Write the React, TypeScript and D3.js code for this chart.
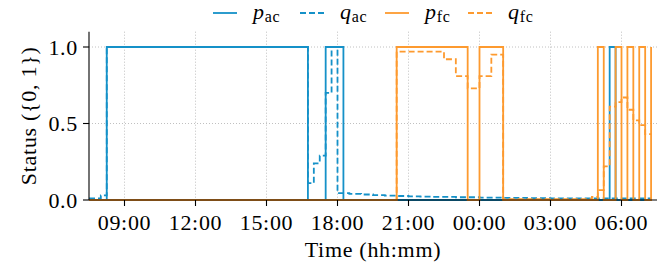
import { useEffect } from "react";
import * as d3 from "d3";

// change points of each step series (hh:mm, day rolls over after midnight)
const P_AC_T = ["07:30", "08:15", "16:45", "17:30", "18:15", "05:30", "05:45", "07:15"];
const P_AC_V = [0, 1, 0, 1, 0, 1, 0, 0];

const Q_AC_T = ["07:30", "08:00", "08:15", "16:45", "17:00", "17:15", "17:30", "17:45", "18:00", "18:30", "19:00", "19:30", "20:00", "20:30", "21:00", "21:30", "22:00", "23:00", "00:00", "01:00", "02:00", "03:00", "04:00", "07:15"];
const Q_AC_V = [0.01, 0.03, 1, 0.11, 0.24, 0.29, 0.7, 1, 0.045, 0.04, 0.036, 0.032, 0.029, 0.026, 0.024, 0.022, 0.02, 0.018, 0.016, 0.014, 0.012, 0.011, 0.01, 0.01];

const P_FC_T = ["07:30", "20:30", "23:30", "00:00", "01:00", "05:00", "05:15", "05:45", "06:00", "06:15", "06:30", "06:45", "07:00", "07:15"];
const P_FC_V = [0, 1, 0, 1, 0, 1, 0, 1, 0, 1, 0, 1, 0, 1];

const Q_FC_T = ["07:30", "20:30", "22:30", "23:00", "23:30", "00:00", "00:30", "01:00", "04:45", "05:00", "05:15", "05:30", "05:45", "06:00", "06:15", "06:30", "06:45", "07:00", "07:15"];
const Q_FC_V = [0, 0.97, 0.92, 0.81, 0.73, 0.81, 0.95, 0.005, 0.02, 0.065, 0.22, 0.61, 0.64, 0.67, 0.59, 0.52, 0.49, 0.43, 0.43];

const Y_TICKS = [0, 0.5, 1.0];

const BLUE = "#1591c8";
const ORANGE = "#fd9a2f";

const SERIES = [
  { key: "pac", sym: "p", sub: "ac", color: BLUE, dashed: false, t: P_AC_T, v: P_AC_V },
  { key: "qac", sym: "q", sub: "ac", color: BLUE, dashed: true, t: Q_AC_T, v: Q_AC_V },
  { key: "pfc", sym: "p", sub: "fc", color: ORANGE, dashed: false, t: P_FC_T, v: P_FC_V },
  { key: "qfc", sym: "q", sub: "fc", color: ORANGE, dashed: true, t: Q_FC_T, v: Q_FC_V },
];

function toDate(s: string) {
  const [h, m] = s.split(":").map(Number);
  const day = h * 60 + m < 450 ? 2 : 1;
  return new Date(2020, 0, day, h, m);
}

const W = 665;
const H = 269;
const margin = { top: 31.7, right: 8, bottom: 69, left: 89 };
const FONT = "'Liberation Serif', 'Times New Roman', serif";
const FS = 22;
const LS = 0.7;

export default function App() {
  useEffect(() => {
    document.body.style.margin = "0";
  }, []);

  const x = d3
    .scaleTime()
    .domain([new Date(2020, 0, 1, 7, 30), new Date(2020, 0, 2, 7, 30)])
    .range([margin.left, W - margin.right]);
  const y = d3.scaleLinear().domain([0, 1.1]).range([H - margin.bottom, margin.top]);

  const xTicks = x.ticks(d3.timeHour.every(3)!);
  const fmt = d3.timeFormat("%H:%M");

  const line = d3
    .line<[Date, number]>()
    .x((d) => x(d[0]))
    .y((d) => y(d[1]))
    .curve(d3.curveStepAfter);

  const y0 = y(0);
  const legendX = [213, 300, 385, 468];

  return (
    <svg width={W} height={H} style={{ display: "block" }} fontFamily={FONT} letterSpacing={LS}>
      {/* grid */}
      {xTicks.map((t, i) => (
        <line key={"gx" + i} x1={x(t)} x2={x(t)} y1={margin.top} y2={y0} stroke="#b0b0b0" strokeWidth={0.8} strokeDasharray="1,2" />
      ))}
      {Y_TICKS.filter((v) => v > 0).map((v) => (
        <line key={"gy" + v} x1={margin.left} x2={W - margin.right} y1={y(v)} y2={y(v)} stroke="#b0b0b0" strokeWidth={0.8} strokeDasharray="1,2" />
      ))}

      {/* series */}
      {SERIES.map((s) => (
        <path
          key={s.key}
          d={line(s.t.map((t, i) => [toDate(t), s.v[i]] as [Date, number])) || ""}
          fill="none"
          stroke={s.color}
          strokeWidth={1.8}
          strokeDasharray={s.dashed ? "6,3" : undefined}
        />
      ))}

      {/* spines */}
      <line x1={margin.left} x2={margin.left} y1={margin.top} y2={y0} stroke="#000" strokeWidth={1.1} />
      <line x1={margin.left} x2={W - margin.right} y1={y0} y2={y0} stroke="#000" strokeWidth={1.1} />

      {/* x ticks */}
      {xTicks.map((t, i) => (
        <g key={"xt" + i}>
          <line x1={x(t)} x2={x(t)} y1={y0} y2={y0 + 6} stroke="#000" strokeWidth={1.1} />
          <text x={x(t)} y={230} textAnchor="middle" fontSize={FS}>
            {fmt(t)}
          </text>
        </g>
      ))}
      {/* y ticks */}
      {Y_TICKS.map((v) => (
        <g key={"yt" + v}>
          <line x1={margin.left - 6} x2={margin.left} y1={y(v)} y2={y(v)} stroke="#000" strokeWidth={1.1} />
          <text x={margin.left - 11} y={y(v) + 7.5} textAnchor="end" fontSize={FS}>
            {d3.format(".1f")(v)}
          </text>
        </g>
      ))}

      <text x={(margin.left + W - margin.right) / 2} y={257} textAnchor="middle" fontSize={FS}>
        Time (hh:mm)
      </text>
      <text transform={`translate(36,${(margin.top + y0) / 2}) rotate(-90)`} textAnchor="middle" fontSize={FS}>
        {"Status ({0, 1})"}
      </text>

      {/* legend */}
      {SERIES.map((s, i) => (
        <g key={"lg" + s.key} transform={`translate(${legendX[i]},13)`}>
          <line x1={0} x2={24} y1={0} y2={0} stroke={s.color} strokeWidth={1.8} strokeDasharray={s.dashed ? "6,3" : undefined} />
          <text x={40} y={6} fontSize={FS}>
            <tspan fontStyle="italic">{s.sym}</tspan>
            <tspan fontSize={16} dy={3}>{s.sub}</tspan>
          </text>
        </g>
      ))}
    </svg>
  );
}
